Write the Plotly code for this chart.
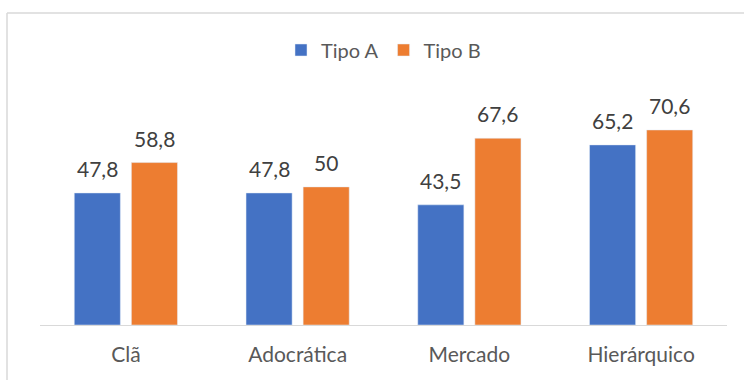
import plotly.graph_objects as go

categories = ["Clã", "Adocrática", "Mercado", "Hierárquico"]
tipo_a = [47.8, 47.8, 43.5, 65.2]
tipo_b = [58.8, 50, 67.6, 70.6]

BLUE = "#4472C4"
ORANGE = "#ED7D31"
FONT = "Lato, 'Noto Sans', sans-serif"


def fmt(v):
    return f"{v:g}".replace(".", ",")


fig = go.Figure()
fig.add_trace(go.Bar(name="Tipo A", x=categories, y=tipo_a, marker_color=BLUE))
fig.add_trace(go.Bar(name="Tipo B", x=categories, y=tipo_b, marker_color=ORANGE))

# value labels above each bar, shifted onto the bar of its series
annotations = []
for series, shift in ((tipo_a, -28.5), (tipo_b, 28.5)):
    for cat, v in zip(categories, series):
        annotations.append(dict(
            x=cat, y=v, text=fmt(v), showarrow=False,
            xanchor="center", yanchor="bottom", xshift=shift, yshift=10,
            font=dict(family=FONT, size=21, color="#404040"),
        ))

W, H = 744, 380
ml, mr, mt, mb = 40, 17, 104, 55
pw, ph = W - ml - mr, H - mt - mb

# chart frame: top and left edges (the rest lies outside the page)
fx0 = (7 - ml) / pw
fy1 = (mt + ph - 13) / ph
frame = dict(color="#D9D9D9", width=1.5)
shapes = [
    dict(type="line", xref="paper", yref="paper", x0=fx0, x1=(W + 60 - ml) / pw,
         y0=fy1, y1=fy1, line=frame, layer="below"),
    dict(type="line", xref="paper", yref="paper", x0=fx0, x1=fx0,
         y0=-(H + 60 - mt - ph) / ph, y1=fy1, line=frame, layer="below"),
]

fig.update_layout(
    width=W, height=H,
    margin=dict(l=ml, r=mr, t=mt, b=mb),
    paper_bgcolor="white", plot_bgcolor="white",
    barmode="group", bargap=0.335, bargroupgap=0.193,
    showlegend=True,
    legend=dict(
        orientation="h", x=0.5, xanchor="center",
        y=(mt + ph - 50) / ph, yanchor="middle",
        font=dict(family=FONT, size=20, color="#595959"),
        itemwidth=30, traceorder="normal",
    ),
    annotations=annotations,
    xaxis=dict(
        showline=True, linecolor="#D9D9D9", linewidth=1,
        ticks="", showgrid=False,
        tickfont=dict(family=FONT, size=21, color="#595959"),
        ticklabelstandoff=11,
    ),
    yaxis=dict(range=[0, 80], visible=False, showgrid=False),
    shapes=shapes,
)

fig.write_html("out.html")
